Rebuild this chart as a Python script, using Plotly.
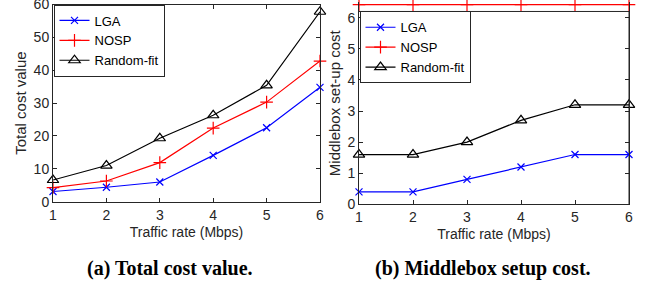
import plotly.graph_objects as go

rates = [1, 2, 3, 4, 5, 6]

# (a) Total cost value
total_lga = [3.1, 4.4, 6.0, 14.1, 22.5, 34.8]
total_nosp = [4.3, 6.3, 11.9, 22.4, 30.3, 42.8]
total_rand = [6.6, 11.0, 19.3, 26.3, 35.4, 57.8]

# (b) Middlebox set-up cost
setup_lga = [0.4, 0.4, 0.8, 1.2, 1.6, 1.6]
setup_nosp = [6.42, 6.42, 6.42, 6.42, 6.42, 6.42]
setup_rand = [1.6, 1.6, 2.0, 2.7, 3.2, 3.2]

left_ticks = [0, 10, 20, 30, 40, 50, 60]
right_ticks = [0, 1, 2, 3, 4, 5, 6]

W, H = 650, 284
AX = "#262626"
FONT = "Liberation Sans, Arial, sans-serif"
SERIF = "Liberation Serif, Times New Roman, serif"

fig = go.Figure()

styles = [
    ("LGA", "#0000FF", "x-thin-open", 7),
    ("NOSP", "#FF0000", "cross-thin-open", 9),
    ("Random-fit", "#000000", "triangle-up-open", 10),
]

for vals, (name, col, sym, sz) in zip([total_lga, total_nosp, total_rand], styles):
    fig.add_trace(go.Scatter(
        x=rates, y=vals, name=name, mode="lines+markers",
        line=dict(color=col, width=1.2),
        marker=dict(symbol=sym, size=sz, color=col, line=dict(color=col, width=1.2)),
        xaxis="x", yaxis="y", legend="legend", cliponaxis=False,
    ))

for vals, (name, col, sym, sz) in zip([setup_lga, setup_nosp, setup_rand], styles):
    fig.add_trace(go.Scatter(
        x=rates, y=vals, name=name, mode="lines+markers",
        line=dict(color=col, width=1.2),
        marker=dict(symbol=sym, size=sz, color=col, line=dict(color=col, width=1.2)),
        xaxis="x2", yaxis="y2", legend="legend2", cliponaxis=False,
    ))

def px_x(p):
    return p / W

def px_y(p):
    return 1 - p / H

axis_common = dict(
    showgrid=False, zeroline=False, ticks="inside", ticklen=4,
    tickcolor=AX, linecolor=AX, linewidth=1, automargin=False,
    ticklabeloverflow="allow",
    tickfont=dict(family=FONT, size=14, color=AX),
)

xt = dict(text="Traffic rate (Mbps)", font=dict(size=14, color=AX), standoff=5)

fig.update_layout(
    width=W, height=H,
    margin=dict(l=0, r=0, t=0, b=0, autoexpand=False),
    paper_bgcolor="white", plot_bgcolor="white",
    font=dict(family=FONT, color=AX),
    xaxis=dict(
        domain=[px_x(53), px_x(320)], range=[1, 6], tickvals=rates,
        showline=True, mirror="ticks", anchor="y", title=xt,
        **axis_common,
    ),
    yaxis=dict(
        domain=[px_y(201.7), px_y(4.5)], range=[0, 60], tickvals=left_ticks,
        showline=True, mirror="ticks", anchor="x",
        title=dict(text="Total cost value", font=dict(size=15, color=AX), standoff=3),
        **axis_common,
    ),
    xaxis2=dict(
        domain=[px_x(359), px_x(629)], range=[1, 6], tickvals=rates,
        showline=True, anchor="y2", title=xt,
        **axis_common,
    ),
    yaxis2=dict(
        domain=[px_y(204.3), px_y(204.3 - 6.5 * 31.1)], range=[0, 6.5], tickvals=right_ticks,
        showline=True, mirror="ticks", anchor="x2",
        title=dict(text="Middlebox set-up cost", font=dict(size=15, color=AX), standoff=3),
        **axis_common,
    ),
    legend=dict(
        x=px_x(53.5), y=px_y(4.5), xanchor="left", yanchor="top",
        bgcolor="white", bordercolor=AX, borderwidth=1,
        font=dict(family=FONT, size=13, color="black"),
        tracegroupgap=0, itemwidth=30,
    ),
    legend2=dict(
        x=px_x(359.5), y=px_y(11.3), xanchor="left", yanchor="top",
        bgcolor="white", bordercolor=AX, borderwidth=1,
        font=dict(family=FONT, size=13, color="black"),
        tracegroupgap=0, itemwidth=30,
    ),
    showlegend=True,
)

fig.add_shape(type="line", xref="x2", yref="y2", x0=1, x1=6, y0=6.2, y1=6.2,
              line=dict(color=AX, width=1), layer="below")
fig.add_shape(type="line", xref="x2", yref="y2", x0=6, x1=6, y0=0, y1=6.2,
              line=dict(color=AX, width=1), layer="below")

fig.add_annotation(text="<b>(a) Total cost value.</b>", xref="paper", yref="paper",
                   x=px_x(170), y=px_y(268), xanchor="center", yanchor="middle", showarrow=False,
                   font=dict(family=SERIF, size=20, color="black"))
fig.add_annotation(text="<b>(b) Middlebox setup cost.</b>", xref="paper", yref="paper",
                   x=px_x(483), y=px_y(268), xanchor="center", yanchor="middle", showarrow=False,
                   font=dict(family=SERIF, size=20, color="black"))

fig.write_html("out.html", config={"displayModeBar": False},
               post_script="document.body.style.margin='0px';")
